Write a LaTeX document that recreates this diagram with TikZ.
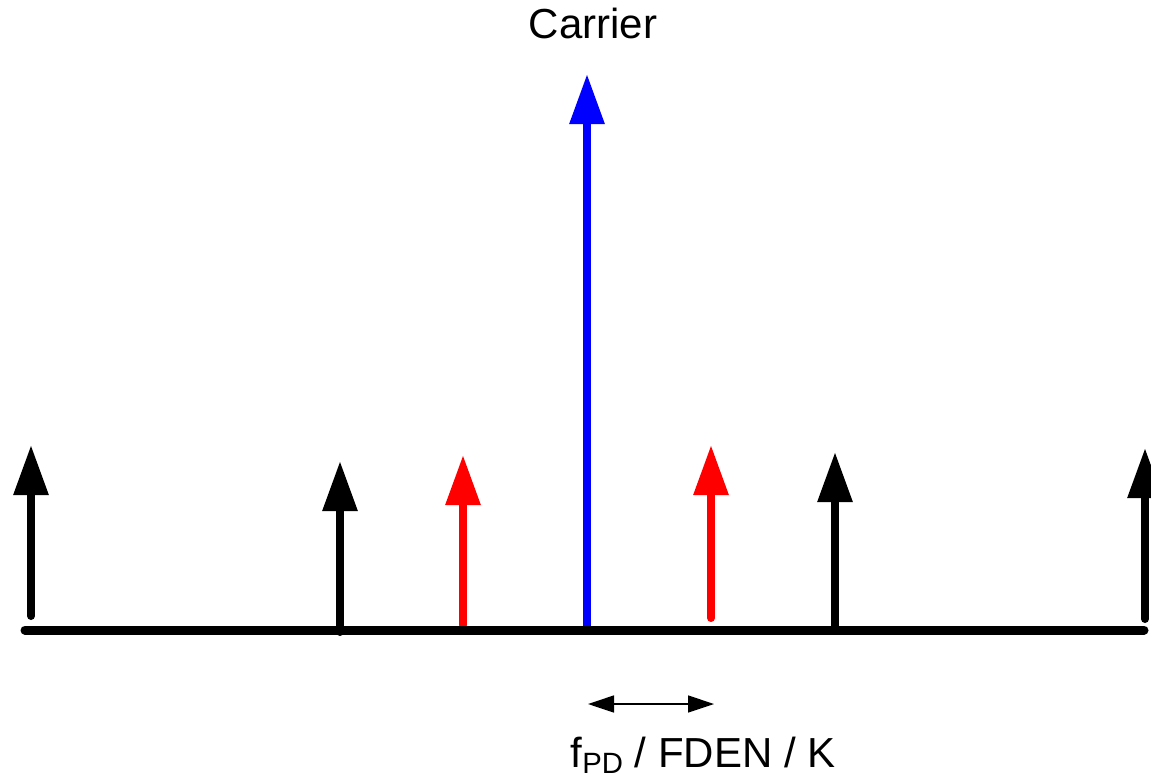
\documentclass[tikz,border=0pt]{standalone}
\usepackage{fontspec}
\setmainfont{Liberation Sans}
\usetikzlibrary{arrows.meta}

\tikzset{
  spike/.style={line width=6pt, line cap=round, -{Triangle[length=37.5pt, width=25pt]}},
  spacing/.style={line width=1.1pt, {Triangle[length=19.5pt, width=12.75pt]}-{Triangle[length=19.5pt, width=12.75pt]}},
  label/.style={inner sep=0pt, font=\fontsize{31.5}{38}\selectfont}
}

\begin{document}
\begin{tikzpicture}[x=0.75pt, y=-0.75pt]
            \useasboundingbox (0,0) rectangle (1151,778);
            \draw[spike, draw=black, fill=black] (31,616) -- (31,445);
            \draw[spike, draw=black, fill=black] (340,632) -- (340,461);
            \draw[spike, draw=red, fill=red] (463,625) -- (463,455);
            \draw[spike, draw=blue, fill=blue] (587,626) -- (587,74);
            \draw[spike, draw=red, fill=red] (711,618) -- (711,445);
            \draw[spike, draw=black, fill=black] (835,626) -- (835,452);
            \draw[spike, draw=black, fill=black] (1145,619) -- (1145,448);
            \draw[draw=black, line width=6.75pt, line cap=round] (25,630) -- (1144,630);
            \draw[spacing, draw=black, fill=black] (588,704) -- (714,704);
            \node[label, anchor=base] (carrier) at (593,38) {Carrier};
            \node[label, anchor=base] (step) at (703,767) {f\raisebox{-4.5pt}{\fontsize{22}{26}\selectfont PD} / FDEN / K};
        \end{tikzpicture}
\end{document}
